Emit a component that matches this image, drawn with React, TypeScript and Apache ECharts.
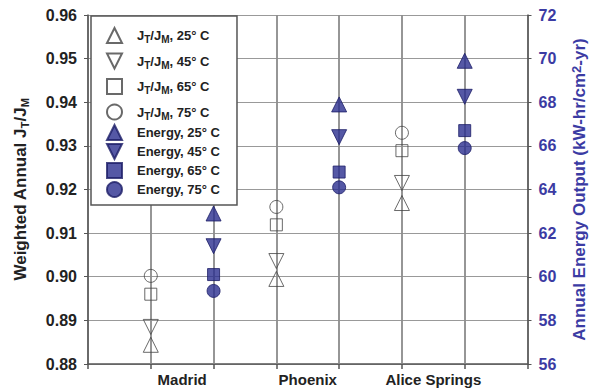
import { useEffect, useRef } from 'react';
import * as echarts from 'echarts';

const categories = ['Madrid', 'Phoenix', 'Alice Springs'];
const jtX = [1, 3, 5];
const energyX = [2, 4, 6];
const gridX = [1, 2, 3, 4, 5, 6];
const temps = ['25° C', '45° C', '65° C', '75° C'];

const jt25 = [0.8844, 0.8995, 0.9169];
const jt45 = [0.8885, 0.9036, 0.9215];
const jt65 = [0.896, 0.9119, 0.9289];
const jt75 = [0.9002, 0.916, 0.933];

const en25 = [62.9, 67.9, 69.9];
const en45 = [61.4, 66.4, 68.25];
const en65 = [60.1, 64.8, 66.7];
const en75 = [59.35, 64.1, 65.9];

const FONT = 'Liberation Sans, Arial, sans-serif';
const BLUE = '#2b2e8f';
const BLUE_EDGE = '#1b1d66';
const AXIS_BLUE = '#3b3ba3';
const DOWN_TRI = 'path://M0,0L10,0L5,10Z';

const symbols = ['triangle', DOWN_TRI, 'rect', 'circle'];
const sizes = [15, 15, 12, 13];

export default function App() {
  const ref = useRef<HTMLDivElement>(null);
  useEffect(() => {
    const chart = echarts.init(ref.current!, null, { renderer: 'svg' });
    const jtNames = temps.map((t) => `JT/JM, ${t}`);
    const enNames = temps.map((t) => `Energy, ${t}`);
    // half-step slots from 0 to 7 on the x axis
    const slots = Array.from({ length: 15 }, (_, i) => `s${i}`);
    const labelSlots = categories.map((_, i) => (i * 2 + 1.5) * 2);

    const series: any[] = [];
    [jt25, jt45, jt65, jt75].forEach((vals, k) => {
      series.push({
        name: jtNames[k],
        type: 'scatter',
        yAxisIndex: 0,
        symbol: symbols[k],
        symbolSize: sizes[k],
        itemStyle: { color: 'rgba(255,255,255,0)', borderColor: '#444444', borderWidth: 1 },
        data: vals.map((v, i) => [jtX[i] * 2, v]),
        ...(k === 0
          ? {
              markLine: {
                silent: true,
                z: 1,
                symbol: 'none',
                label: { show: false },
                lineStyle: { color: '#8f8f8f', width: 1.5, type: 'solid' },
                data: gridX.map((x) => ({ xAxis: slots[x * 2] })),
              },
            }
          : {}),
      });
    });
    [en25, en45, en65, en75].forEach((vals, k) => {
      series.push({
        name: enNames[k],
        type: 'scatter',
        yAxisIndex: 1,
        symbol: symbols[k],
        symbolSize: sizes[k],
        itemStyle: { color: BLUE, borderColor: BLUE_EDGE, borderWidth: 1 },
        data: vals.map((v, i) => [energyX[i] * 2, v]),
      });
    });

    const makeText = () => ({
      fontFamily: FONT,
      padding: [0, 0, 0, 10],
      rich: {
        n: { fontFamily: FONT, fontSize: 13, fontWeight: 'bold', color: '#222', lineHeight: 18 },
        s: { fontFamily: FONT, fontSize: 10, fontWeight: 'bold', color: '#222', lineHeight: 10, verticalAlign: 'bottom' },
        e: { fontFamily: FONT, fontSize: 13, fontWeight: 'bold', color: '#222', lineHeight: 14 },
      },
    });

    const option: any = {
      animation: false,
      backgroundColor: '#ffffff',
      grid: { left: 88, right: 68, top: 15, bottom: 25, containLabel: false },
      legend: [
        {
          data: enNames,
          orient: 'vertical',
          left: 91,
          top: 16,
          padding: [108, 17, 7, 15],
          backgroundColor: '#ffffff',
          borderColor: '#555555',
          borderWidth: 1.5,
          itemWidth: 15,
          itemHeight: 15,
          itemGap: 2,
          formatter: (name: string) => `{e|${name}}`,
          textStyle: makeText(),
        },
        {
          data: jtNames,
          orient: 'vertical',
          left: 106,
          top: 27,
          padding: 0,
          itemWidth: 15,
          itemHeight: 15,
          itemGap: 8,
          formatter: (name: string) => `{n|J}{s|T}{n|/J}{s|M}{n|, ${name.split(', ')[1]}}`,
          textStyle: makeText(),
        },
      ],
      xAxis: {
        type: 'category',
        data: slots,
        boundaryGap: false,
        axisLine: { show: true, lineStyle: { color: '#555', width: 1.5 } },
        axisTick: {
          show: true,
          length: 5,
          interval: (i: number) => i % 2 === 0,
          lineStyle: { color: '#555', width: 1.5 },
        },
        axisLabel: {
          show: true,
          margin: 8,
          fontFamily: FONT,
          fontSize: 15,
          fontWeight: 'bold',
          color: '#222',
          interval: (i: number) => labelSlots.includes(i),
          formatter: (_v: string, i: number) => {
            const idx = labelSlots.indexOf(i);
            return idx >= 0 ? categories[idx] : '';
          },
        },
        splitLine: {
          show: true,
          interval: (i: number) => i % 2 === 0,
          lineStyle: { color: '#8f8f8f', width: 1.5 },
        },
      },
      yAxis: [
        {
          type: 'value',
          position: 'left',
          min: 0.88,
          max: 0.96,
          interval: 0.01,
          name: '{n|Weighted Annual J}{s|T}{n|/J}{s|M}',
          nameLocation: 'middle',
          nameRotate: 90,
          nameGap: 58,
          nameTextStyle: {
            rich: {
              n: { fontFamily: FONT, fontSize: 17, fontWeight: 'bold', color: '#222', lineHeight: 20 },
              s: { fontFamily: FONT, fontSize: 11, fontWeight: 'bold', color: '#222', lineHeight: 12, verticalAlign: 'bottom' },
            },
          },
          axisLine: { show: true, lineStyle: { color: '#555', width: 1.5 } },
          axisTick: { show: true, length: 4, lineStyle: { color: '#555' } },
          axisLabel: {
            margin: 11,
            fontFamily: FONT,
            fontSize: 16,
            fontWeight: 'bold',
            color: '#222',
            formatter: (v: number) => v.toFixed(2),
          },
          splitLine: { show: true, lineStyle: { color: '#999', width: 1 } },
        },
        {
          type: 'value',
          position: 'right',
          min: 56,
          max: 72,
          interval: 2,
          name: '{n|Annual Energy Output (kW-hr/cm}{p|2}{n|-yr)}',
          nameLocation: 'middle',
          nameRotate: 90,
          nameGap: 42,
          nameTextStyle: {
            rich: {
              n: { fontFamily: FONT, fontSize: 17, fontWeight: 'bold', color: AXIS_BLUE, lineHeight: 20 },
              p: { fontFamily: FONT, fontSize: 13, fontWeight: 'bold', color: AXIS_BLUE, lineHeight: 12, verticalAlign: 'top' },
            },
          },
          axisLine: { show: true, lineStyle: { color: '#555', width: 1.5 } },
          axisTick: { show: true, length: 4, lineStyle: { color: '#555' } },
          axisLabel: {
            margin: 11,
            fontFamily: FONT,
            fontSize: 16,
            fontWeight: 'bold',
            color: AXIS_BLUE,
          },
          splitLine: { show: false },
        },
      ],
      series,
    };
    chart.setOption(option);
    return () => chart.dispose();
  }, []);
  return <div ref={ref} style={{ position: 'absolute', left: 0, top: 0, width: 596, height: 389 }} />;
}
